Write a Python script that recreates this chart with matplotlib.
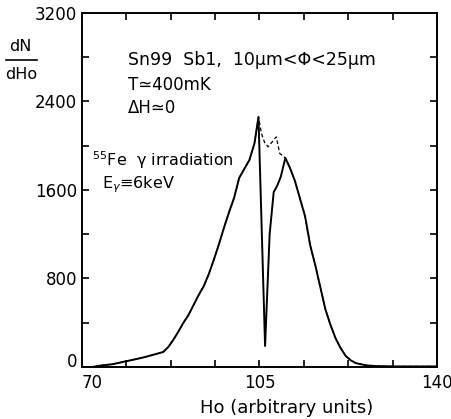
import numpy as np
import matplotlib
matplotlib.use("Agg")
import matplotlib.pyplot as plt
from matplotlib.ticker import MultipleLocator, FixedLocator

ho = [70, 72, 74, 76, 78, 80, 82, 84, 86, 87, 88, 89, 90, 91, 92, 93, 94, 95,
      96, 97, 98, 99, 100, 101, 102, 103, 104, 104.8, 106.1, 107.0, 107.8,
      108.5, 109.2, 110.1, 111, 112, 113, 114, 115, 116, 117, 118, 119, 120,
      121, 122, 123, 124, 126, 128, 132, 136, 140]
dn = [0, 0, 15, 25, 45, 65, 85, 110, 135, 180, 245, 320, 400, 470, 560, 650,
      730, 840, 970, 1110, 1260, 1400, 1530, 1710, 1790, 1870, 2020, 2260,
      190, 1200, 1580, 1640, 1720, 1890, 1800, 1680, 1520, 1360, 1100, 920,
      720, 520, 380, 260, 170, 100, 60, 35, 15, 8, 5, 5, 5]

# dashed curve bridges the dip between the two peaks
gap_ho = [105.4, 106.0, 106.7, 107.6, 108.3, 109.0]
gap_dn = [2110, 2030, 1990, 2040, 2080, 1930]

x_major = [70, 105, 140]
x_minor = [78.75, 87.5, 96.25, 113.75, 122.5, 131.25]
y_major = [0, 800, 1600, 2400, 3200]

ho = np.array(ho, float)
dn = np.array(dn, float)
left = ho <= 104.8
right = ho >= 110.1
dash_ho = np.concatenate([ho[left], gap_ho, ho[right]])
dash_dn = np.concatenate([dn[left], gap_dn, dn[right]])

fig = plt.figure(figsize=(4.52, 4.19), dpi=100)
ax = fig.add_axes([0.1814, 0.1241, 0.7854, 0.8449])

ax.plot(dash_ho, dash_dn, color="black", lw=0.9, ls=(0, (3, 2)))
ax.plot(ho, dn, color="black", lw=1.4)

ax.set_xlim(70, 140)
ax.set_ylim(0, 3200)
ax.xaxis.set_major_locator(FixedLocator(x_major))
ax.xaxis.set_minor_locator(FixedLocator(x_minor))
ax.yaxis.set_major_locator(FixedLocator(y_major))
ax.yaxis.set_minor_locator(MultipleLocator(400))
ax.tick_params(which="both", direction="in", top=True, right=True,
               length=5, width=1.2, labelsize=12)
ax.tick_params(axis="x", pad=5)
for s in ax.spines.values():
    s.set_linewidth(1.4)

# first labels sit off-centre in the original
ax.get_xticklabels()[0].set_horizontalalignment("left")
ax.get_yticklabels()[0].set_verticalalignment("baseline")

ax.set_xlabel("Ho (arbitrary units)", fontsize=13)
ax.xaxis.set_label_coords(0.577, -0.09, transform=ax.transAxes)
ax.xaxis.label.set_verticalalignment("top")

fig.text(0.046, 0.872, "dN", fontsize=11.5, ha="center", va="bottom")
fig.add_artist(plt.Line2D([0.013, 0.082], [0.856, 0.856], color="black", lw=1.2))
fig.text(0.046, 0.84, "dHo", fontsize=11.5, ha="center", va="top")

fig.text(0.283, 0.857, "Sn99  Sb1,  10μm<Φ<25μm", fontsize=12.5, va="center")
fig.text(0.283, 0.797, "T≃400mK", fontsize=12, va="center")
fig.text(0.283, 0.742, "ΔH≃0", fontsize=12, va="center")
fig.text(0.203, 0.618, r"$^{55}$Fe  γ irradiation", fontsize=11.5, va="center")
fig.text(0.226, 0.558, r"E$_\gamma$≡6keV", fontsize=11.5, va="center")

fig.savefig("out.png", dpi=100)
